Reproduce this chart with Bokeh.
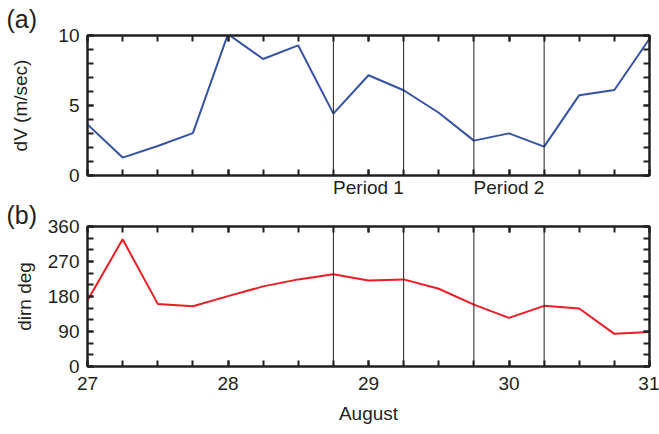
from bokeh.plotting import figure
from bokeh.layouts import column
from bokeh.models import Range1d, LinearAxis, FixedTicker, Span, CustomJSTickFormatter
from bokeh.embed import file_html
from bokeh.resources import INLINE

# Six-hourly samples, 27-31 August
days = [27.0, 27.25, 27.5, 27.75, 28.0, 28.25, 28.5, 28.75, 29.0,
        29.25, 29.5, 29.75, 30.0, 30.25, 30.5, 30.75, 31.0]
dv = [3.65, 1.28, 2.11, 3.03, 10.1, 8.32, 9.29, 4.42, 7.16,
      6.09, 4.48, 2.49, 3.01, 2.06, 5.74, 6.11, 9.77]
dirn = [170, 327, 161, 155, 181, 206, 224, 237, 221,
        224, 200, 159, 125, 156, 149, 84, 89]

period_edges = [28.75, 29.25, 29.75, 30.25]
period_names = ["Period 1", "Period 2"]
period_centres = [29, 30]

day_ticks = [27, 28, 29, 30, 31]
quarter_ticks = [27 + 0.25 * i for i in range(17)]
dv_ticks = [0, 5, 10]
dv_minor = list(range(0, 11))
dirn_ticks = [0, 90, 180, 270, 360]
dirn_minor = list(range(0, 361, 30))

FONT = "Liberation Sans"
INK = "#231f20"
FS = "19px"
BLUE = "#3553a3"
RED = "#ec1c24"


def style_axis(ax, major, minor, labels=True):
    ax.ticker = FixedTicker(ticks=major, minor_ticks=minor)
    ax.axis_line_color = INK
    ax.axis_line_width = 2
    ax.major_tick_in = 6
    ax.major_tick_out = 0
    ax.minor_tick_in = 6
    ax.minor_tick_out = 0
    ax.major_tick_line_color = INK
    ax.major_tick_line_width = 2
    ax.minor_tick_line_color = INK
    ax.minor_tick_line_width = 2
    ax.major_label_text_font = FONT
    ax.major_label_text_font_size = FS
    ax.major_label_text_color = INK
    ax.axis_label_text_font = FONT
    ax.axis_label_text_font_size = FS
    ax.axis_label_text_font_style = "normal"
    ax.axis_label_text_color = INK
    if not labels:
        ax.formatter = CustomJSTickFormatter(code="return ''")
        ax.major_label_standoff = 0


def panel(tag, height, top, bottom, yr, ymaj, ymin, ylabel, ystand, tstand):
    p = figure(width=659, height=height, output_backend="svg",
               toolbar_location=None, x_range=Range1d(27, 31), y_range=yr,
               min_border_left=87, min_border_right=10,
               min_border_top=top, min_border_bottom=bottom,
               x_axis_location=None, y_axis_location=None)
    p.grid.visible = False
    p.outline_line_color = INK
    p.outline_line_width = 2

    p.title.text = tag
    p.title.align = "left"
    p.title.offset = -81
    p.title.standoff = tstand
    p.title.text_font = FONT
    p.title.text_font_size = "25px"
    p.title.text_font_style = "normal"
    p.title.text_color = INK

    left = LinearAxis(axis_label=ylabel)
    style_axis(left, ymaj, ymin)
    left.major_label_standoff = 8
    left.axis_label_standoff = ystand
    p.add_layout(left, "left")

    right = LinearAxis()
    style_axis(right, ymaj, ymin, labels=False)
    p.add_layout(right, "right")

    above = LinearAxis()
    style_axis(above, day_ticks, quarter_ticks, labels=False)
    p.add_layout(above, "above")

    for xe in period_edges:
        p.add_layout(Span(location=xe, dimension="height",
                          line_color=INK, line_width=1))
    return p


# (a) speed difference, with the two periods named under the frame
top_p = panel("(a)", 200, 35, 24, Range1d(0, 10), dv_ticks, dv_minor,
              "dV (m/sec)", 24, 5)
top_below = LinearAxis()
style_axis(top_below, day_ticks, quarter_ticks)
top_below.major_label_overrides = {d: "" for d in day_ticks}
top_below.major_label_overrides.update(
    {c: n for c, n in zip(period_centres, period_names)})
top_below.major_label_standoff = 1
top_p.add_layout(top_below, "below")
top_p.line(days, dv, line_color=BLUE, line_width=2)

# (b) direction
bot_p = panel("(b)", 234, 26, 68, Range1d(0, 360), dirn_ticks, dirn_minor,
              "dirn deg", 10, -4)
bot_below = LinearAxis(axis_label="August")
style_axis(bot_below, day_ticks, quarter_ticks)
bot_below.major_label_standoff = 10
bot_below.axis_label_standoff = 10
bot_p.add_layout(bot_below, "below")
bot_p.line(days, dirn, line_color=RED, line_width=2)

layout = column(top_p, bot_p, spacing=0)
open("out.html", "w").write(file_html(layout, INLINE))
